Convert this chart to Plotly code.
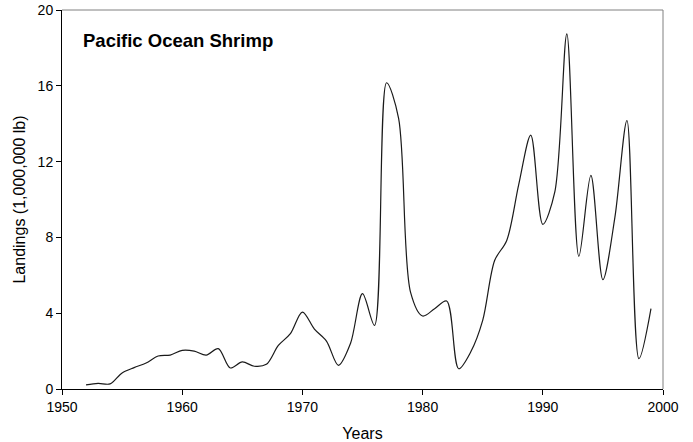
import plotly.graph_objects as go

years = list(range(1952, 2000))
landings = [0.22, 0.3, 0.27, 0.85, 1.13, 1.37, 1.74, 1.79, 2.04, 2.0,
            1.79, 2.13, 1.11, 1.43, 1.2, 1.3, 2.3, 2.92, 4.06, 3.16,
            2.53, 1.25, 2.4, 5.03, 3.36, 16.16, 14.3, 5.1, 3.85, 4.24,
            4.64, 1.07, 1.95, 3.62, 6.79, 7.84, 10.8, 13.4, 8.69, 10.4,
            18.74, 7.0, 11.27, 5.77, 9.07, 14.17, 1.6, 4.24]

x_ticks = [1950, 1960, 1970, 1980, 1990, 2000]
y_ticks = [0, 4, 8, 12, 16, 20]
title_text = "Pacific Ocean Shrimp"
font_family = "Liberation Sans, Arial, sans-serif"

fig = go.Figure()
fig.add_trace(go.Scatter(
    x=years, y=landings, mode="lines",
    line=dict(color="#1a1a1a", width=1.2, shape="spline", smoothing=0.9),
    showlegend=False, hoverinfo="skip"))

fig.update_layout(
    width=693, height=442,
    margin=dict(l=62, r=30, t=10, b=53),
    paper_bgcolor="white", plot_bgcolor="white",
    font=dict(family=font_family, size=14, color="black"),
    xaxis=dict(range=[1950, 2000], tickvals=x_ticks, ticks="outside", ticklen=5,
               tickcolor="black", showline=True, linecolor="black", linewidth=1,
               showgrid=False, zeroline=False, automargin=False,
               title=dict(text="Years", standoff=14, font=dict(size=16))),
    yaxis=dict(range=[0, 20], tickvals=y_ticks, ticks="outside", ticklen=5,
               tickcolor="black", showline=True, linecolor="black", linewidth=1,
               showgrid=False, zeroline=False, automargin=False,
               title=dict(text="Landings (1,000,000 lb)", standoff=8, font=dict(size=16))),
    shapes=[
        dict(type="line", xref="paper", yref="paper", x0=0, x1=1, y0=1, y1=1,
             line=dict(color="#808080", width=1)),
        dict(type="line", xref="paper", yref="paper", x0=1, x1=1, y0=0, y1=1,
             line=dict(color="#808080", width=1)),
    ],
    annotations=[dict(text="<b>" + title_text + "</b>", xref="paper", yref="paper",
                      x=0.032, y=0.92, xanchor="left", yanchor="middle",
                      showarrow=False, font=dict(size=18.5, color="black"))],
)

fig.write_html("out.html", config={"displayModeBar": False},
               post_script="document.body.style.margin='0';")
